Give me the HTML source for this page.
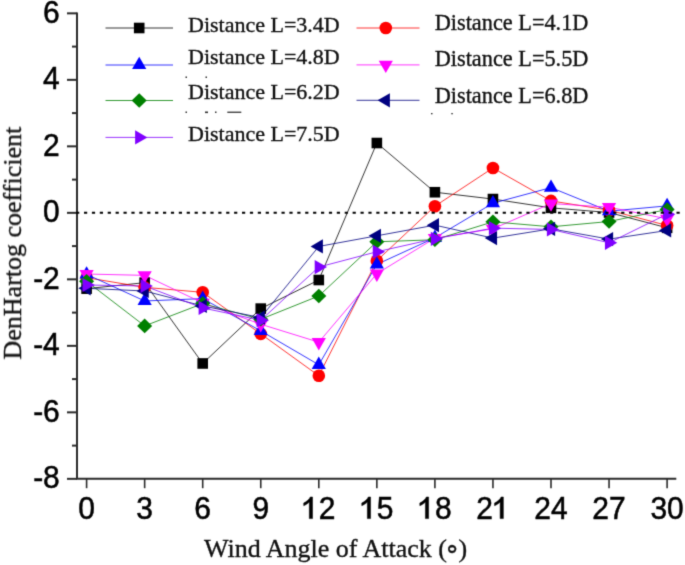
<!DOCTYPE html>
<html><head><meta charset="utf-8"><style>
html,body{margin:0;padding:0;background:#fff;}
body{width:685px;height:565px;overflow:hidden;font-family:"Liberation Sans",sans-serif;}
svg{display:block;will-change:transform;}
</style></head><body>
<svg width="685" height="565" viewBox="0 0 685 565">
<defs><filter id="b" filterUnits="userSpaceOnUse" x="0" y="0" width="685" height="565" color-interpolation-filters="sRGB"><feConvolveMatrix order="3" kernelMatrix="0.01917 0.10012 0.01917 0.10012 0.52283 0.10012 0.01917 0.10012 0.01917" edgeMode="none"/></filter></defs>
<rect width="685" height="565" fill="#fff"/>
<g filter="url(#b)">
<g><polyline points="86.60,288.66 144.65,282.68 202.70,363.47 260.75,308.61 318.80,280.01 376.85,143.02 434.90,192.23 492.95,199.05 551.00,207.86 609.05,212.52 667.10,227.81" fill="none" stroke="#000000" stroke-width="0.8"/><polyline points="86.60,277.69 144.65,287.33 202.70,292.32 260.75,333.88 318.80,375.77 376.85,260.73 434.90,206.20 492.95,167.96 551.00,200.88 609.05,210.19 667.10,225.48" fill="none" stroke="#ff0000" stroke-width="0.8"/><polyline points="86.60,274.36 144.65,300.96 202.70,298.63 260.75,330.89 318.80,364.80 376.85,264.39 434.90,237.79 492.95,203.21 551.00,187.58 609.05,211.19 667.10,205.87" fill="none" stroke="#0000ff" stroke-width="0.8"/><polyline points="86.60,274.03 144.65,275.36 202.70,302.96 260.75,324.24 318.80,342.19 376.85,273.70 434.90,238.12 492.95,228.81 551.00,203.54 609.05,207.20 667.10,218.83" fill="none" stroke="#ff00ff" stroke-width="0.8"/><polyline points="86.60,281.35 144.65,325.90 202.70,303.62 260.75,319.25 318.80,295.98 376.85,241.78 434.90,239.78 492.95,221.83 551.00,226.81 609.05,221.50 667.10,209.53" fill="none" stroke="#008000" stroke-width="0.8"/><polyline points="86.60,288.33 144.65,290.99 202.70,305.95 260.75,317.59 318.80,246.43 376.85,235.79 434.90,225.15 492.95,238.12 551.00,228.81 609.05,239.12 667.10,230.47" fill="none" stroke="#000080" stroke-width="0.8"/><polyline points="86.60,285.00 144.65,286.00 202.70,307.94 260.75,320.25 318.80,267.05 376.85,251.75 434.90,238.78 492.95,228.14 551.00,229.47 609.05,242.78 667.10,214.18" fill="none" stroke="#8000ff" stroke-width="0.8"/><rect x="81.30" y="283.36" width="10.6" height="10.6" fill="#000000"/><rect x="139.35" y="277.38" width="10.6" height="10.6" fill="#000000"/><rect x="197.40" y="358.17" width="10.6" height="10.6" fill="#000000"/><rect x="255.45" y="303.31" width="10.6" height="10.6" fill="#000000"/><rect x="313.50" y="274.71" width="10.6" height="10.6" fill="#000000"/><rect x="371.55" y="137.72" width="10.6" height="10.6" fill="#000000"/><rect x="429.60" y="186.93" width="10.6" height="10.6" fill="#000000"/><rect x="487.65" y="193.75" width="10.6" height="10.6" fill="#000000"/><rect x="545.70" y="202.56" width="10.6" height="10.6" fill="#000000"/><rect x="603.75" y="207.22" width="10.6" height="10.6" fill="#000000"/><rect x="661.80" y="222.51" width="10.6" height="10.6" fill="#000000"/><circle cx="86.60" cy="277.69" r="6.3" fill="#ff0000"/><circle cx="144.65" cy="287.33" r="6.3" fill="#ff0000"/><circle cx="202.70" cy="292.32" r="6.3" fill="#ff0000"/><circle cx="260.75" cy="333.88" r="6.3" fill="#ff0000"/><circle cx="318.80" cy="375.77" r="6.3" fill="#ff0000"/><circle cx="376.85" cy="260.73" r="6.3" fill="#ff0000"/><circle cx="434.90" cy="206.20" r="6.3" fill="#ff0000"/><circle cx="492.95" cy="167.96" r="6.3" fill="#ff0000"/><circle cx="551.00" cy="200.88" r="6.3" fill="#ff0000"/><circle cx="609.05" cy="210.19" r="6.3" fill="#ff0000"/><circle cx="667.10" cy="225.48" r="6.3" fill="#ff0000"/><polygon points="86.60,266.16 93.70,278.46 79.50,278.46" fill="#0000ff"/><polygon points="144.65,292.76 151.75,305.06 137.55,305.06" fill="#0000ff"/><polygon points="202.70,290.44 209.80,302.74 195.60,302.74" fill="#0000ff"/><polygon points="260.75,322.69 267.85,334.99 253.65,334.99" fill="#0000ff"/><polygon points="318.80,356.60 325.90,368.90 311.70,368.90" fill="#0000ff"/><polygon points="376.85,256.19 383.95,268.49 369.75,268.49" fill="#0000ff"/><polygon points="434.90,229.59 442.00,241.89 427.80,241.89" fill="#0000ff"/><polygon points="492.95,195.01 500.05,207.31 485.85,207.31" fill="#0000ff"/><polygon points="551.00,179.38 558.10,191.68 543.90,191.68" fill="#0000ff"/><polygon points="609.05,202.99 616.15,215.29 601.95,215.29" fill="#0000ff"/><polygon points="667.10,197.67 674.20,209.97 660.00,209.97" fill="#0000ff"/><polygon points="86.60,282.23 93.70,269.93 79.50,269.93" fill="#ff00ff"/><polygon points="144.65,283.56 151.75,271.26 137.55,271.26" fill="#ff00ff"/><polygon points="202.70,311.16 209.80,298.86 195.60,298.86" fill="#ff00ff"/><polygon points="260.75,332.44 267.85,320.14 253.65,320.14" fill="#ff00ff"/><polygon points="318.80,350.39 325.90,338.09 311.70,338.09" fill="#ff00ff"/><polygon points="376.85,281.90 383.95,269.60 369.75,269.60" fill="#ff00ff"/><polygon points="434.90,246.32 442.00,234.02 427.80,234.02" fill="#ff00ff"/><polygon points="492.95,237.01 500.05,224.71 485.85,224.71" fill="#ff00ff"/><polygon points="551.00,211.74 558.10,199.44 543.90,199.44" fill="#ff00ff"/><polygon points="609.05,215.40 616.15,203.10 601.95,203.10" fill="#ff00ff"/><polygon points="667.10,227.03 674.20,214.73 660.00,214.73" fill="#ff00ff"/><polygon points="86.60,274.05 94.10,281.35 86.60,288.65 79.10,281.35" fill="#008000"/><polygon points="144.65,318.60 152.15,325.90 144.65,333.20 137.15,325.90" fill="#008000"/><polygon points="202.70,296.32 210.20,303.62 202.70,310.92 195.20,303.62" fill="#008000"/><polygon points="260.75,311.95 268.25,319.25 260.75,326.55 253.25,319.25" fill="#008000"/><polygon points="318.80,288.68 326.30,295.98 318.80,303.28 311.30,295.98" fill="#008000"/><polygon points="376.85,234.48 384.35,241.78 376.85,249.08 369.35,241.78" fill="#008000"/><polygon points="434.90,232.48 442.40,239.78 434.90,247.08 427.40,239.78" fill="#008000"/><polygon points="492.95,214.53 500.45,221.83 492.95,229.13 485.45,221.83" fill="#008000"/><polygon points="551.00,219.51 558.50,226.81 551.00,234.12 543.50,226.81" fill="#008000"/><polygon points="609.05,214.19 616.55,221.50 609.05,228.80 601.55,221.50" fill="#008000"/><polygon points="667.10,202.22 674.60,209.53 667.10,216.83 659.60,209.53" fill="#008000"/><polygon points="78.40,288.33 90.70,281.23 90.70,295.43" fill="#000080"/><polygon points="136.45,290.99 148.75,283.89 148.75,298.09" fill="#000080"/><polygon points="194.50,305.95 206.80,298.85 206.80,313.05" fill="#000080"/><polygon points="252.55,317.59 264.85,310.49 264.85,324.69" fill="#000080"/><polygon points="310.60,246.43 322.90,239.33 322.90,253.53" fill="#000080"/><polygon points="368.65,235.79 380.95,228.69 380.95,242.89" fill="#000080"/><polygon points="426.70,225.15 439.00,218.05 439.00,232.25" fill="#000080"/><polygon points="484.75,238.12 497.05,231.02 497.05,245.22" fill="#000080"/><polygon points="542.80,228.81 555.10,221.71 555.10,235.91" fill="#000080"/><polygon points="600.85,239.12 613.15,232.02 613.15,246.22" fill="#000080"/><polygon points="658.90,230.47 671.20,223.37 671.20,237.57" fill="#000080"/><polygon points="94.80,285.00 82.50,277.90 82.50,292.10" fill="#8000ff"/><polygon points="152.85,286.00 140.55,278.90 140.55,293.10" fill="#8000ff"/><polygon points="210.90,307.94 198.60,300.84 198.60,315.05" fill="#8000ff"/><polygon points="268.95,320.25 256.65,313.15 256.65,327.35" fill="#8000ff"/><polygon points="327.00,267.05 314.70,259.95 314.70,274.15" fill="#8000ff"/><polygon points="385.05,251.75 372.75,244.65 372.75,258.85" fill="#8000ff"/><polygon points="443.10,238.78 430.80,231.69 430.80,245.88" fill="#8000ff"/><polygon points="501.15,228.14 488.85,221.04 488.85,235.24" fill="#8000ff"/><polygon points="559.20,229.47 546.90,222.38 546.90,236.57" fill="#8000ff"/><polygon points="617.25,242.78 604.95,235.68 604.95,249.88" fill="#8000ff"/><polygon points="675.30,214.18 663.00,207.08 663.00,221.28" fill="#8000ff"/></g>
<g><path d="M77 12.5 V479.7 M76 478.7 H676.3" stroke="#2b2b2b" stroke-width="2" fill="none"/><line x1="67" y1="478.85" x2="77" y2="478.85" stroke="#2b2b2b" stroke-width="2"/><line x1="72" y1="445.60" x2="77" y2="445.60" stroke="#2b2b2b" stroke-width="2"/><line x1="67" y1="412.35" x2="77" y2="412.35" stroke="#2b2b2b" stroke-width="2"/><line x1="72" y1="379.10" x2="77" y2="379.10" stroke="#2b2b2b" stroke-width="2"/><line x1="67" y1="345.85" x2="77" y2="345.85" stroke="#2b2b2b" stroke-width="2"/><line x1="72" y1="312.60" x2="77" y2="312.60" stroke="#2b2b2b" stroke-width="2"/><line x1="67" y1="279.35" x2="77" y2="279.35" stroke="#2b2b2b" stroke-width="2"/><line x1="72" y1="246.10" x2="77" y2="246.10" stroke="#2b2b2b" stroke-width="2"/><line x1="67" y1="212.85" x2="77" y2="212.85" stroke="#2b2b2b" stroke-width="2"/><line x1="72" y1="179.60" x2="77" y2="179.60" stroke="#2b2b2b" stroke-width="2"/><line x1="67" y1="146.35" x2="77" y2="146.35" stroke="#2b2b2b" stroke-width="2"/><line x1="72" y1="113.10" x2="77" y2="113.10" stroke="#2b2b2b" stroke-width="2"/><line x1="67" y1="79.85" x2="77" y2="79.85" stroke="#2b2b2b" stroke-width="2"/><line x1="72" y1="46.60" x2="77" y2="46.60" stroke="#2b2b2b" stroke-width="2"/><line x1="67" y1="13.35" x2="77" y2="13.35" stroke="#2b2b2b" stroke-width="2"/><line x1="86.60" y1="478.7" x2="86.60" y2="488.2" stroke="#2b2b2b" stroke-width="1.6"/><line x1="144.65" y1="478.7" x2="144.65" y2="488.2" stroke="#2b2b2b" stroke-width="1.6"/><line x1="202.70" y1="478.7" x2="202.70" y2="488.2" stroke="#2b2b2b" stroke-width="1.6"/><line x1="260.75" y1="478.7" x2="260.75" y2="488.2" stroke="#2b2b2b" stroke-width="1.6"/><line x1="318.80" y1="478.7" x2="318.80" y2="488.2" stroke="#2b2b2b" stroke-width="1.6"/><line x1="376.85" y1="478.7" x2="376.85" y2="488.2" stroke="#2b2b2b" stroke-width="1.6"/><line x1="434.90" y1="478.7" x2="434.90" y2="488.2" stroke="#2b2b2b" stroke-width="1.6"/><line x1="492.95" y1="478.7" x2="492.95" y2="488.2" stroke="#2b2b2b" stroke-width="1.6"/><line x1="551.00" y1="478.7" x2="551.00" y2="488.2" stroke="#2b2b2b" stroke-width="1.6"/><line x1="609.05" y1="478.7" x2="609.05" y2="488.2" stroke="#2b2b2b" stroke-width="1.6"/><line x1="667.10" y1="478.7" x2="667.10" y2="488.2" stroke="#2b2b2b" stroke-width="1.6"/></g>
<line x1="76.1" y1="212.85" x2="680" y2="212.85" stroke="#000" stroke-width="2" stroke-dasharray="3.2 4.7"/>
<g font-family="'Liberation Sans', sans-serif" font-size="30" fill="#000" stroke="#000" stroke-width="0.5"><text transform="translate(59.8 488.45) scale(1 1.07)" text-anchor="end">-8</text><text transform="translate(59.8 421.95) scale(1 1.07)" text-anchor="end">-6</text><text transform="translate(59.8 355.45) scale(1 1.07)" text-anchor="end">-4</text><text transform="translate(59.8 288.95) scale(1 1.07)" text-anchor="end">-2</text><text transform="translate(59.8 222.45) scale(1 1.07)" text-anchor="end">0</text><text transform="translate(59.8 155.95) scale(1 1.07)" text-anchor="end">2</text><text transform="translate(59.8 89.45) scale(1 1.07)" text-anchor="end">4</text><text transform="translate(59.8 22.95) scale(1 1.07)" text-anchor="end">6</text><g transform="translate(78.26 518.6) scale(1 1.07)"><text x="0.00" y="0">0</text></g><g transform="translate(136.31 518.6) scale(1 1.07)"><text x="0.00" y="0">3</text></g><g transform="translate(194.36 518.6) scale(1 1.07)"><text x="0.00" y="0">6</text></g><g transform="translate(252.41 518.6) scale(1 1.07)"><text x="0.00" y="0">9</text></g><g transform="translate(302.12 518.6) scale(1 1.07)"><path transform="translate(0.00 0)" d="M7.2,0H10.4V-20.2H8.2C7.2,-18.2 4.5,-15.7 1.6,-14.6V-12.1C3.8,-12.9 6,-14.3 7.2,-15.5Z" fill="#000"/><text x="16.68" y="0">2</text></g><g transform="translate(360.17 518.6) scale(1 1.07)"><path transform="translate(0.00 0)" d="M7.2,0H10.4V-20.2H8.2C7.2,-18.2 4.5,-15.7 1.6,-14.6V-12.1C3.8,-12.9 6,-14.3 7.2,-15.5Z" fill="#000"/><text x="16.68" y="0">5</text></g><g transform="translate(418.22 518.6) scale(1 1.07)"><path transform="translate(0.00 0)" d="M7.2,0H10.4V-20.2H8.2C7.2,-18.2 4.5,-15.7 1.6,-14.6V-12.1C3.8,-12.9 6,-14.3 7.2,-15.5Z" fill="#000"/><text x="16.68" y="0">8</text></g><g transform="translate(476.27 518.6) scale(1 1.07)"><text x="0.00" y="0">2</text><path transform="translate(16.68 0)" d="M7.2,0H10.4V-20.2H8.2C7.2,-18.2 4.5,-15.7 1.6,-14.6V-12.1C3.8,-12.9 6,-14.3 7.2,-15.5Z" fill="#000"/></g><g transform="translate(534.32 518.6) scale(1 1.07)"><text x="0.00" y="0">2</text><text x="16.68" y="0">4</text></g><g transform="translate(592.37 518.6) scale(1 1.07)"><text x="0.00" y="0">2</text><text x="16.68" y="0">7</text></g><g transform="translate(650.42 518.6) scale(1 1.07)"><text x="0.00" y="0">3</text><text x="16.68" y="0">0</text></g></g>
<g font-family="'Liberation Serif', serif" font-size="22" fill="#111"><line x1="105.5" y1="28.0" x2="173" y2="28.0" stroke="#000000" stroke-width="0.8"/><rect x="133.90" y="22.70" width="10.6" height="10.6" fill="#000000"/><text x="188.0" y="31.8" font-size="22" stroke="#111" stroke-width="0.35">Distance L=3.4D</text><line x1="105.5" y1="65.0" x2="173" y2="65.0" stroke="#0000ff" stroke-width="0.8"/><polygon points="139.20,56.80 146.30,69.10 132.10,69.10" fill="#0000ff"/><text x="188.0" y="64.2" font-size="22" stroke="#111" stroke-width="0.35">Distance L=4.8D</text><line x1="105.5" y1="100.5" x2="173" y2="100.5" stroke="#008000" stroke-width="0.8"/><polygon points="139.20,93.20 146.70,100.50 139.20,107.80 131.70,100.50" fill="#008000"/><text x="188.0" y="98.9" font-size="22" stroke="#111" stroke-width="0.35">Distance L=6.2D</text><line x1="105.5" y1="137.4" x2="173" y2="137.4" stroke="#8000ff" stroke-width="0.8"/><polygon points="147.40,137.40 135.10,130.30 135.10,144.50" fill="#8000ff"/><text x="188.0" y="141.3" font-size="22" stroke="#111" stroke-width="0.35">Distance L=7.5D</text><line x1="356.5" y1="28.0" x2="419.5" y2="28.0" stroke="#ff0000" stroke-width="0.8"/><circle cx="385.80" cy="28.00" r="6.3" fill="#ff0000"/><text x="434.7" y="30.4" font-size="22.3" stroke="#111" stroke-width="0.35">Distance L=4.1D</text><line x1="356.5" y1="64.9" x2="419.5" y2="64.9" stroke="#ff00ff" stroke-width="0.8"/><polygon points="385.80,73.10 392.90,60.80 378.70,60.80" fill="#ff00ff"/><text x="434.7" y="65.8" font-size="22.3" stroke="#111" stroke-width="0.35">Distance L=5.5D</text><line x1="356.5" y1="100.3" x2="419.5" y2="100.3" stroke="#000080" stroke-width="0.8"/><polygon points="377.60,100.30 389.90,93.20 389.90,107.40" fill="#000080"/><text x="434.7" y="102.5" font-size="22.3" stroke="#111" stroke-width="0.35">Distance L=6.8D</text></g>
<g><rect x="185.5" y="76.5" width="1.5" height="1.5" fill="#333"/><rect x="205.5" y="76.5" width="1.5" height="1.5" fill="#333"/><rect x="185.5" y="111.5" width="1.5" height="1.5" fill="#333"/><rect x="205" y="111.5" width="3" height="1.6" fill="#333"/><rect x="215" y="111.5" width="1.5" height="1.5" fill="#333"/><rect x="227.3" y="111.6" width="14" height="1.3" fill="#333"/><rect x="431" y="113" width="1.5" height="1.3" fill="#333"/><rect x="451.3" y="113" width="1.5" height="1.3" fill="#333"/></g>
<text x="204" y="556.6" font-family="'Liberation Serif', serif" font-size="26" fill="#111" stroke="#111" stroke-width="0.35">Wind Angle of Attack (<tspan dx="-2.8" dy="0.6">&#8728;</tspan><tspan dx="-1.8" dy="-0.6">)</tspan></text>
<text transform="translate(21 359.5) rotate(-90)" font-family="'Liberation Serif', serif" font-size="26" fill="#111" stroke="#111" stroke-width="0.35">DenHartog coefficient</text>
</g></svg>
</body></html>
